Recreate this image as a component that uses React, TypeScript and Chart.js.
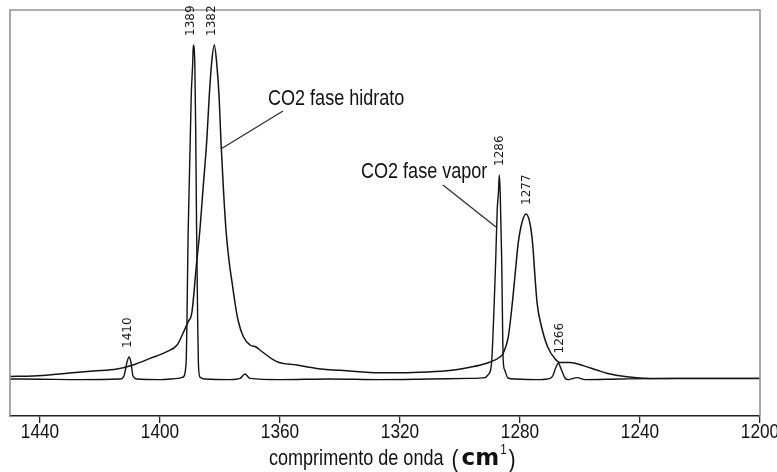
import { useEffect, useRef } from 'react';
import { Chart, registerables } from 'chart.js';

Chart.register(...registerables);

// Raman spectra, [wavenumber (cm-1), relative intensity]
const VAPOR: [number, number][] = [
  [1450, 9.25], [1440, 9.2], [1426.7, 9.1], [1413.3, 9.25], [1412, 10], [1411, 13.5],
  [1410.3, 14.75], [1409.7, 13.5], [1409, 10], [1407.7, 9.25], [1400, 9.1], [1394, 9.4],
  [1392.3, 9.75], [1391.3, 13.25], [1390.6, 46.5], [1389.6, 79.75], [1389.1, 88.25],
  [1388.9, 92.75], [1388.4, 88.25], [1388.1, 71.5], [1387.8, 46.5], [1387.4, 21.5],
  [1387.2, 13.25], [1386.7, 9.75], [1385, 9.25], [1376.7, 9.1], [1373.3, 9.4], [1371.7, 10.5],
  [1370, 9.4], [1360, 9.1], [1343.3, 9.25], [1326.7, 9.1], [1310, 9.25], [1296.7, 9.4],
  [1291.7, 9.6], [1290.7, 10.25], [1289.8, 11.5], [1289.4, 14], [1288.1, 39], [1287.6, 51.5],
  [1287.2, 55.75], [1286.9, 60.25], [1286.6, 55.75], [1286.1, 39], [1285.6, 14], [1285.1, 11.5],
  [1284, 9.5], [1281.7, 9.25], [1273.3, 9.1], [1270, 9.4], [1269.1, 10], [1268, 12.25],
  [1267.2, 13.2], [1266.3, 11.75], [1265, 9.5], [1264, 9.1], [1261, 9.6], [1258.3, 9.1],
  [1246.7, 9.25], [1226.7, 9.4], [1200, 9.4],
];

const HYDRATE: [number, number][] = [
  [1450, 9.9], [1442.3, 10], [1431, 10.7], [1422.3, 11.25], [1414.3, 11.75], [1409, 12.75],
  [1403.3, 14.4], [1397.7, 16.1], [1394.3, 17.75], [1392.3, 20.75], [1390.6, 23.6],
  [1389.4, 25.75], [1387.8, 38.25], [1386.7, 46.5], [1385.6, 57.3], [1384.4, 69],
  [1383.6, 79.8], [1382.8, 88.2], [1381.9, 92.75], [1381.1, 88.2], [1380.3, 79.8],
  [1379.7, 69], [1378.9, 57.3], [1378, 46.5], [1376.9, 38.25], [1376, 33.5], [1375, 28.25],
  [1374, 24], [1372.2, 19.8], [1370, 17.75], [1368, 17.25], [1366.7, 16.5], [1361.1, 13.6],
  [1354.4, 12.75], [1347.8, 11.9], [1337.8, 11.3], [1326.7, 10.8], [1315.6, 10.9], [1304.4, 11.3],
  [1296.7, 12.2], [1291.1, 13.2], [1286.7, 14.75], [1285.6, 15.7], [1283.9, 19.8], [1282.8, 26.5],
  [1281.7, 34.8], [1280.6, 43.2], [1279.4, 48.2], [1278, 50.5], [1276.7, 48.2], [1275.8, 43.2],
  [1275, 34.8], [1274.3, 28.2], [1272.8, 22.25], [1270.8, 17.3], [1268.3, 14.25], [1266.7, 13.4],
  [1263.3, 13.4], [1258.9, 12.6], [1254.4, 11.5], [1251.1, 10.7], [1244.4, 9.8], [1236.7, 9.4],
  [1220, 9.4], [1200, 9.4],
];

const X_TICKS = [1440, 1400, 1360, 1320, 1280, 1240, 1200];
const PEAK_LABELS = ['1410', '1389', '1382', '1286', '1277', '1266'];
const ANNOTATION_TEXTS = ['CO2 fase hidrato', 'CO2 fase vapor'];
const X_TITLE = 'comprimento de onda';
const X_UNIT = 'cm';
const X_UNIT_SUP = '1';

// annotation anchors in data coordinates: text [wn, int], leader from [wn,int] to [wn,int]
const ANNOTATION_ANCHORS = [
  { text: [1364, 77.75], from: [1359, 76.25], to: [1379.7, 66.75] },
  { text: [1333, 59.5], from: [1305.7, 57.75], to: [1288, 47.25] },
];

const SANS = '"Liberation Sans", Arial, sans-serif';
const CONDENSE = 0.82;
const INK = '#131313';

function narrowText(ctx: CanvasRenderingContext2D, t: string, x: number, y: number) {
  ctx.save();
  ctx.translate(x, y);
  ctx.scale(CONDENSE, 1);
  ctx.fillText(t, 0, 0);
  ctx.restore();
}

const overlay = {
  id: 'overlay',
  afterDraw(chart: any) {
    const { ctx, chartArea: a } = chart;
    const x = chart.scales.x;
    const y = chart.scales.y;
    ctx.save();

    // frame (top, left, right)
    ctx.strokeStyle = '#939393';
    ctx.lineWidth = 1.6;
    ctx.beginPath();
    ctx.moveTo(a.left, a.bottom);
    ctx.lineTo(a.left, a.top);
    ctx.lineTo(a.right, a.top);
    ctx.lineTo(a.right, a.bottom);
    ctx.stroke();

    // tick labels (condensed)
    ctx.fillStyle = '#111';
    ctx.font = `21px ${SANS}`;
    ctx.textAlign = 'center';
    ctx.textBaseline = 'alphabetic';
    X_TICKS.forEach((v) => narrowText(ctx, String(v), x.getPixelForValue(v), a.bottom + 22));

    // peak labels
    ctx.fillStyle = '#1a1a1a';
    ctx.font = '12px "DejaVu Sans", sans-serif';
    const all = [...VAPOR, ...HYDRATE];
    PEAK_LABELS.forEach((lab) => {
      const v = parseFloat(lab);
      let m = 0;
      all.forEach(([w, i]) => {
        if (Math.abs(w - v) <= 1.5 && i > m) m = i;
      });
      const px = x.getPixelForValue(v) - 2;
      const py = y.getPixelForValue(m) - 9;
      ctx.save();
      ctx.translate(px, py);
      ctx.rotate(-Math.PI / 2);
      ctx.textAlign = 'left';
      ctx.textBaseline = 'middle';
      ctx.fillText(lab, 0, 0);
      ctx.restore();
    });

    // annotations
    ctx.font = `22px ${SANS}`;
    ctx.fillStyle = '#111';
    ctx.strokeStyle = '#2a2a2a';
    ctx.lineWidth = 1.2;
    ctx.textAlign = 'left';
    ctx.textBaseline = 'alphabetic';
    ANNOTATION_TEXTS.forEach((t, k) => {
      const an = ANNOTATION_ANCHORS[k];
      narrowText(ctx, t, x.getPixelForValue(an.text[0]), y.getPixelForValue(an.text[1]));
      ctx.beginPath();
      ctx.moveTo(x.getPixelForValue(an.from[0]), y.getPixelForValue(an.from[1]));
      ctx.lineTo(x.getPixelForValue(an.to[0]), y.getPixelForValue(an.to[1]));
      ctx.stroke();
    });

    // x-axis title
    const base = a.bottom + 49;
    let cx = a.left + 259;
    ctx.textAlign = 'left';
    ctx.textBaseline = 'alphabetic';
    ctx.fillStyle = '#111';
    ctx.font = `22px ${SANS}`;
    narrowText(ctx, X_TITLE, cx, base);
    cx += ctx.measureText(X_TITLE).width * CONDENSE + 8;
    ctx.font = `26px ${SANS}`;
    narrowText(ctx, '(', cx, base + 3);
    cx += ctx.measureText('(').width * CONDENSE + 3;
    ctx.font = 'bold 23px "DejaVu Sans", sans-serif';
    ctx.fillText(X_UNIT, cx, base);
    cx += ctx.measureText(X_UNIT).width + 1;
    ctx.font = `14px ${SANS}`;
    narrowText(ctx, X_UNIT_SUP, cx, base - 11);
    cx += ctx.measureText(X_UNIT_SUP).width * CONDENSE + 2;
    ctx.font = `26px ${SANS}`;
    narrowText(ctx, ')', cx, base + 3);

    ctx.restore();
  },
};

export default function App() {
  const ref = useRef<HTMLCanvasElement>(null);
  useEffect(() => {
    const mk = (pts: [number, number][]) => pts.map(([w, i]) => ({ x: w, y: i }));
    const chart = new Chart(ref.current as HTMLCanvasElement, {
      type: 'line',
      data: {
        datasets: [
          {
            data: mk(HYDRATE),
            borderColor: INK,
            borderWidth: 1.5,
            pointRadius: 0,
            fill: false,
            cubicInterpolationMode: 'monotone',
          },
          {
            data: mk(VAPOR),
            borderColor: INK,
            borderWidth: 1.4,
            pointRadius: 0,
            fill: false,
            cubicInterpolationMode: 'monotone',
          },
        ],
      },
      options: {
        animation: false,
        responsive: true,
        maintainAspectRatio: false,
        layout: { padding: { left: 10, right: 17, top: 10, bottom: 0 } },
        plugins: { legend: { display: false }, tooltip: { enabled: false } },
        scales: {
          x: {
            type: 'linear',
            reverse: true,
            min: 1200,
            max: 1450,
            afterBuildTicks: (s: any) => {
              s.ticks = X_TICKS.map((v) => ({ value: v }));
            },
            afterFit: (s: any) => {
              s.height = 56;
              s.paddingLeft = 0;
              s.paddingRight = 0;
            },
            grid: { drawOnChartArea: false, drawTicks: true, tickLength: 7, color: '#222', lineWidth: 1.3 },
            border: { display: true, color: '#222', width: 1.6 },
            ticks: {
              font: { family: SANS, size: 21 },
              color: 'rgba(0,0,0,0)',
              padding: -3,
              maxRotation: 0,
              autoSkip: false,
              callback: (v: any) => String(v),
            },
          },
          y: { display: false, min: 0, max: 101.5 },
        },
      },
      plugins: [overlay],
    } as any);
    return () => chart.destroy();
  }, []);
  return (
    <div style={{ position: 'fixed', left: 0, top: 0, width: 777, height: 472, background: '#fff' }}>
      <canvas ref={ref} />
    </div>
  );
}
